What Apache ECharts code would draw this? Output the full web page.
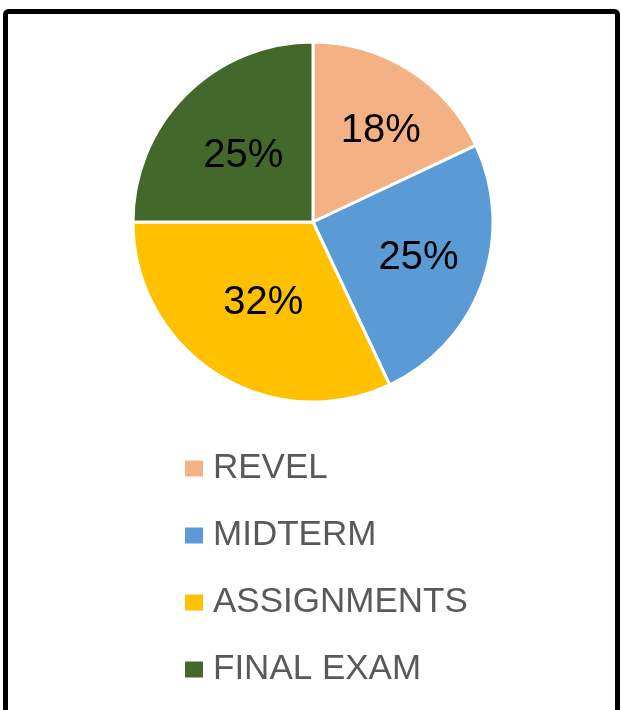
<!DOCTYPE html>
<html>
<head>
<meta charset="utf-8">
<script src="https://cdn.jsdelivr.net/npm/echarts@6/dist/echarts.min.js"></script>
<style>
html,body{margin:0;padding:0;background:#fff;}
#chart{width:621px;height:710px;}
</style>
</head>
<body>
<div id="chart"></div>
<script>
const categories = ['REVEL', 'MIDTERM', 'ASSIGNMENTS', 'FINAL EXAM'];
const values = [18, 25, 32, 25];
const colors = ['#F4B183', '#5B9BD5', '#FFC000', '#43682B'];

const labelNudge = [[18, -13], [18, 4], [0, 2], [-4, 0]];

const chart = echarts.init(document.getElementById('chart'));
chart.setOption({
  animation: false,
  backgroundColor: '#fff',
  graphic: [{
    type: 'rect',
    shape: { x: 5.5, y: 11.5, width: 612, height: 730, r: 3 },
    style: { fill: 'none', stroke: '#000', lineWidth: 5 },
    silent: true
  }],
  legend: {
    orient: 'vertical',
    left: 178,
    top: 446,
    itemWidth: 20,
    itemHeight: 18,
    itemGap: 32,
    icon: 'rect',
    textStyle: { fontFamily: 'Liberation Sans', fontSize: 35, color: '#595959', padding: [0, 0, 0, 4] },
    data: categories
  },
  series: [{
    type: 'pie',
    center: [313, 222],
    radius: 180,
    startAngle: 90,
    clockwise: true,
    avoidLabelOverlap: false,
    itemStyle: { borderColor: '#fff', borderWidth: 3 },
    label: {
      show: true,
      position: 'inside',
      formatter: '{c}%',
      fontFamily: 'Liberation Sans',
      fontSize: 40,
      color: '#000'
    },
    labelLine: { show: false },
    labelLayout: function (p) {
      const n = labelNudge[p.dataIndex];
      return { dx: n[0], dy: n[1] };
    },
    data: categories.map((n, i) => ({ name: n, value: values[i], itemStyle: { color: colors[i] } }))
  }]
});
</script>
</body>
</html>
